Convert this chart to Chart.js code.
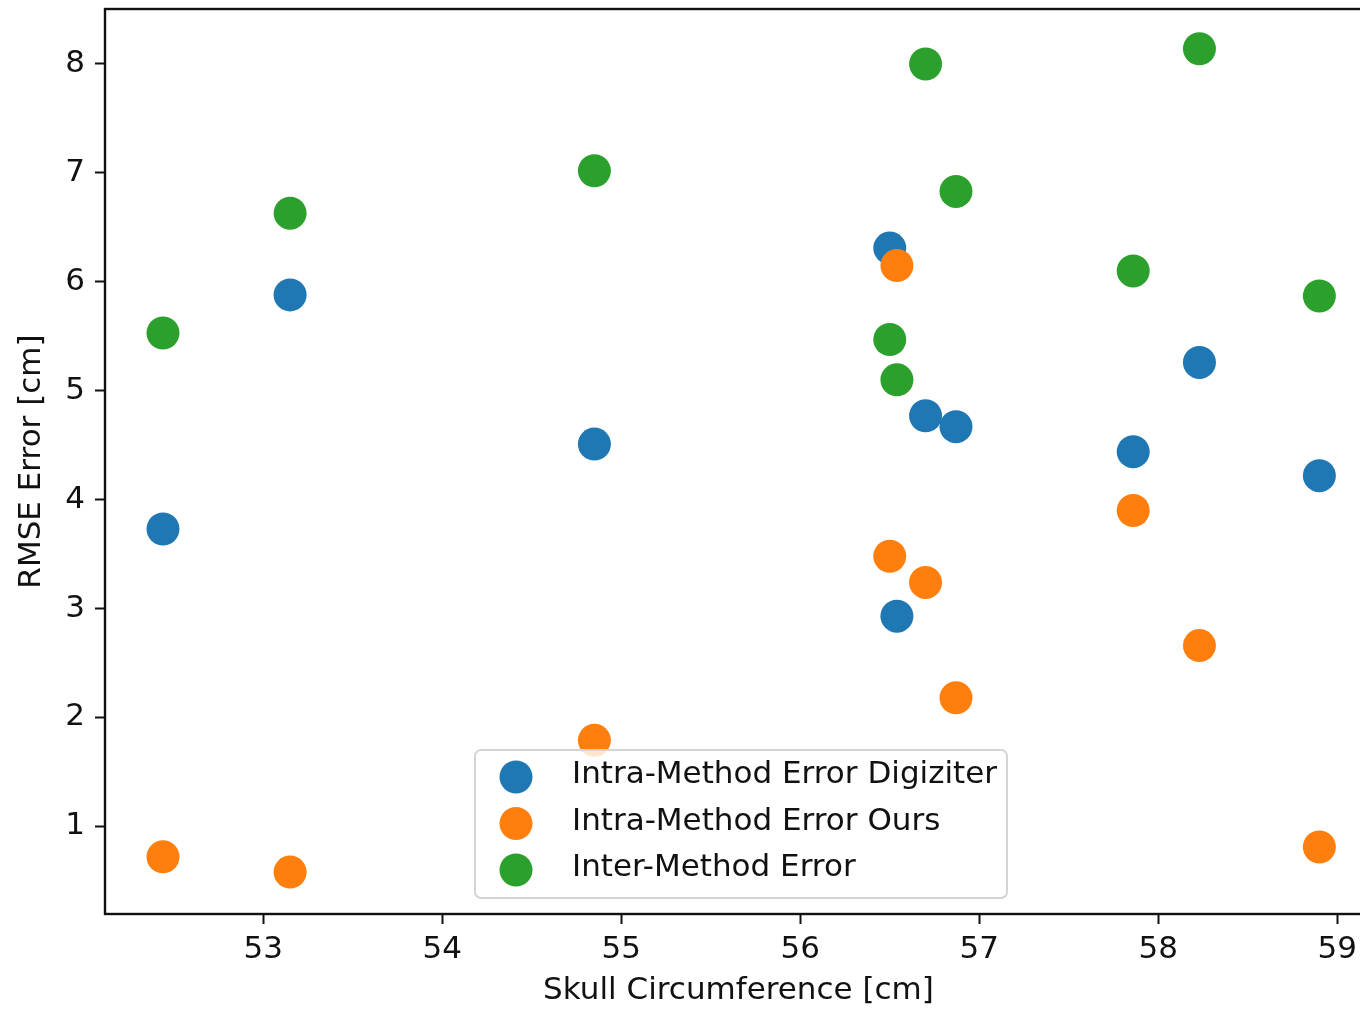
<!DOCTYPE html>
<html lang="en">
<head>
  <meta charset="UTF-8">
  <title>RMSE Error vs Skull Circumference</title>
  <script src="https://cdn.jsdelivr.net/npm/chart.js"></script>
  <style>
    html, body {
      margin: 0;
      padding: 0;
      background: #fff;
      overflow: hidden;
    }
    #wrap {
      width: 1380px;
      height: 1010px;
    }
  </style>
</head>
<body>
<div id="wrap">
  <canvas id="chart" width="1380" height="1010"></canvas>
</div>

<script>
// skull circumference of each subject [cm]
const skullCirc = [52.44, 53.15, 54.85, 56.50, 56.54, 56.70, 56.87, 57.86, 58.23, 58.90];

// RMSE errors [cm]
const intraDigitizer = [3.73, 5.88, 4.51, 6.31, 2.93, 4.77, 4.67, 4.44, 5.26, 4.22];
const intraOurs      = [0.72, 0.58, 1.79, 3.48, 6.15, 3.24, 2.18, 3.90, 2.66, 0.81];
const interMethod    = [5.53, 6.63, 7.02, 5.47, 5.10, 8.00, 6.83, 6.10, 8.14, 5.87];

const seriesNames = ['Intra-Method Error Digiziter', 'Intra-Method Error Ours', 'Inter-Method Error'];
const seriesColors = ['#1f77b4', '#ff7f0e', '#2ca02c'];

const xTicks = [53, 54, 55, 56, 57, 58, 59];
const yTicks = [1, 2, 3, 4, 5, 6, 7, 8];

const FONT = 'DejaVu Sans';
const FS = 31;
const TXT = '#111';

function toPoints(ys) {
  return skullCirc.map((x, i) => ({ x: x, y: ys[i] }));
}

// axes box: frame on all four sides (the right one sits just off the page)
const frame = {
  id: 'frame',
  afterDatasetsDraw(chart) {
    const a = chart.chartArea;
    const ctx = chart.ctx;
    ctx.save();
    ctx.strokeStyle = '#111';
    ctx.lineWidth = 2.4;
    ctx.strokeRect(a.left, a.top, a.right - a.left, a.bottom - a.top);
    ctx.restore();
  }
};

// legend drawn inside the plot, lower middle, like matplotlib's 'best'
const boxLegend = {
  id: 'boxLegend',
  afterDraw(chart) {
    const ctx = chart.ctx;
    const left = 475, top = 750, w = 532, h = 148, r = 6;
    ctx.save();
    ctx.beginPath();
    ctx.roundRect(left, top, w, h, r);
    ctx.fillStyle = 'rgba(255,255,255,0.8)';
    ctx.fill();
    ctx.strokeStyle = '#d4d4d4';
    ctx.lineWidth = 2;
    ctx.stroke();

    ctx.font = FS + 'px "' + FONT + '"';
    ctx.textBaseline = 'middle';
    ctx.textAlign = 'left';
    chart.data.datasets.forEach((ds, i) => {
      const cy = top + 27 + i * 46.5;
      ctx.beginPath();
      ctx.arc(left + 41, cy, 16.5, 0, Math.PI * 2);
      ctx.fillStyle = ds.backgroundColor;
      ctx.fill();
      ctx.fillStyle = TXT;
      ctx.fillText(ds.label, left + 97, cy - 2);
    });
    ctx.restore();
  }
};

const datasets = [intraDigitizer, intraOurs, interMethod].map((ys, i) => ({
  label: seriesNames[i],
  data: toPoints(ys),
  backgroundColor: seriesColors[i],
  borderColor: seriesColors[i],
  borderWidth: 0,
  pointRadius: 16.5,
  pointHoverRadius: 16.5,
  order: 2 - i   // later series painted on top, as in matplotlib
}));

new Chart(document.getElementById('chart'), {
  type: 'scatter',
  data: { datasets: datasets },
  options: {
    responsive: false,
    animation: false,
    events: [],
    layout: { autoPadding: false, padding: { left: 0, top: 9, right: 8, bottom: 0 } },
    plugins: {
      legend: { display: false },
      tooltip: { enabled: false }
    },
    scales: {
      x: {
        type: 'linear',
        min: 52.116,
        max: 59.194,
        afterBuildTicks(scale) {
          scale.ticks = xTicks.map(v => ({ value: v }));
        },
        afterFit(scale) {
          scale.height = 96;
          scale.paddingLeft = 0;
          scale.paddingRight = 0;
        },
        border: { display: false },
        grid: {
          drawOnChartArea: false,
          drawTicks: true,
          tickLength: 10,
          tickWidth: 2,
          tickColor: '#111'
        },
        ticks: {
          padding: 7,
          color: TXT,
          font: { family: FONT, size: FS },
          maxRotation: 0
        },
        title: {
          display: true,
          text: 'Skull Circumference [cm]',
          color: TXT,
          font: { family: FONT, size: FS, lineHeight: 1.2 },
          padding: { top: 0, bottom: 0 }
        }
      },
      y: {
        type: 'linear',
        min: 0.195,
        max: 8.505,
        afterBuildTicks(scale) {
          scale.ticks = yTicks.map(v => ({ value: v }));
        },
        afterFit(scale) {
          scale.width = 105;
          scale.paddingTop = 0;
          scale.paddingBottom = 0;
        },
        border: { display: false },
        grid: {
          drawOnChartArea: false,
          drawTicks: true,
          tickLength: 10,
          tickWidth: 2,
          tickColor: '#111'
        },
        ticks: {
          padding: 10,
          color: TXT,
          font: { family: FONT, size: FS }
        },
        title: {
          display: true,
          text: 'RMSE Error [cm]',
          color: TXT,
          font: { family: FONT, size: FS, lineHeight: 1.2 },
          padding: { top: 13, bottom: 0 }
        }
      }
    }
  },
  plugins: [frame, boxLegend]
});
</script>
</body>
</html>
